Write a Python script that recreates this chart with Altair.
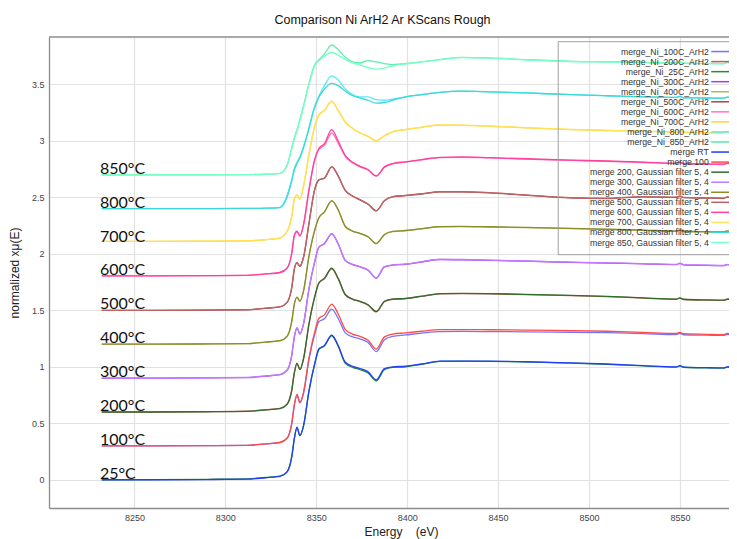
import altair as alt
import pandas as pd

# ---------------- data ----------------
ENERGY = [8232, 8260, 8290, 8312, 8322, 8330, 8334, 8336.5, 8338, 8339.4, 8341, 8343, 8346,
          8349, 8351.5, 8354.5, 8358.5, 8362, 8366, 8370, 8374, 8378.5, 8383, 8387.5, 8392,
          8399, 8408, 8418, 8430, 8445, 8465, 8490, 8510, 8530, 8548, 8550, 8552, 8565, 8574,
          8576, 8578]

NI_25C = [0.000, 0.001, 0.004, 0.008, 0.020, 0.032, 0.072, 0.205, 0.372, 0.462, 0.392, 0.478, 0.785, 1.015, 1.155, 1.185, 1.275, 1.185, 1.030, 0.995, 0.975, 0.945, 0.875, 0.975, 0.995, 1.000, 1.022, 1.048, 1.050, 1.048, 1.043, 1.033, 1.022, 1.008, 0.998, 1.008, 0.996, 0.990, 0.988, 0.998, 0.993]
MERGE_RT = [0.000, 0.000, 0.002, 0.005, 0.018, 0.030, 0.070, 0.200, 0.370, 0.465, 0.390, 0.480, 0.790, 1.020, 1.160, 1.190, 1.280, 1.190, 1.040, 1.005, 0.985, 0.955, 0.885, 0.985, 1.000, 1.005, 1.025, 1.050, 1.050, 1.050, 1.045, 1.035, 1.025, 1.010, 1.000, 1.010, 0.998, 0.992, 0.990, 1.000, 0.995]
NI_100C = [0.300, 0.300, 0.302, 0.305, 0.318, 0.330, 0.368, 0.495, 0.665, 0.748, 0.680, 0.765, 1.065, 1.280, 1.400, 1.425, 1.510, 1.430, 1.300, 1.265, 1.248, 1.215, 1.135, 1.240, 1.270, 1.282, 1.298, 1.312, 1.313, 1.312, 1.310, 1.306, 1.302, 1.294, 1.286, 1.296, 1.284, 1.280, 1.278, 1.288, 1.282]
MERGE_100 = [0.300, 0.300, 0.302, 0.305, 0.318, 0.330, 0.370, 0.500, 0.670, 0.755, 0.685, 0.775, 1.080, 1.300, 1.430, 1.460, 1.555, 1.470, 1.330, 1.290, 1.270, 1.235, 1.157, 1.265, 1.290, 1.300, 1.315, 1.330, 1.330, 1.328, 1.325, 1.320, 1.315, 1.305, 1.295, 1.305, 1.293, 1.288, 1.285, 1.295, 1.290]
NI_200C = [0.600, 0.600, 0.603, 0.607, 0.620, 0.632, 0.672, 0.795, 0.955, 1.032, 0.978, 1.073, 1.382, 1.612, 1.742, 1.780, 1.868, 1.780, 1.636, 1.597, 1.577, 1.546, 1.486, 1.577, 1.598, 1.603, 1.623, 1.646, 1.648, 1.646, 1.640, 1.631, 1.621, 1.608, 1.598, 1.608, 1.596, 1.590, 1.588, 1.598, 1.593]
MERGE_200 = [0.600, 0.600, 0.602, 0.606, 0.618, 0.630, 0.668, 0.790, 0.950, 1.030, 0.975, 1.070, 1.380, 1.610, 1.745, 1.785, 1.873, 1.785, 1.640, 1.600, 1.580, 1.550, 1.490, 1.580, 1.600, 1.605, 1.625, 1.648, 1.650, 1.648, 1.642, 1.633, 1.623, 1.610, 1.600, 1.610, 1.598, 1.592, 1.590, 1.600, 1.595]
NI_300C = [0.900, 0.900, 0.902, 0.905, 0.918, 0.930, 0.970, 1.100, 1.270, 1.345, 1.290, 1.380, 1.690, 1.920, 2.060, 2.090, 2.177, 2.090, 1.940, 1.905, 1.885, 1.855, 1.785, 1.885, 1.900, 1.908, 1.928, 1.950, 1.948, 1.942, 1.935, 1.925, 1.918, 1.912, 1.905, 1.915, 1.903, 1.898, 1.895, 1.905, 1.900]
MERGE_300 = [0.900, 0.900, 0.903, 0.906, 0.919, 0.931, 0.972, 1.103, 1.272, 1.347, 1.292, 1.383, 1.693, 1.922, 2.062, 2.092, 2.180, 2.092, 1.942, 1.907, 1.887, 1.857, 1.788, 1.887, 1.902, 1.910, 1.930, 1.952, 1.950, 1.944, 1.937, 1.927, 1.920, 1.914, 1.907, 1.917, 1.905, 1.900, 1.897, 1.907, 1.902]
NI_400C = [1.200, 1.200, 1.202, 1.205, 1.218, 1.230, 1.270, 1.400, 1.560, 1.615, 1.580, 1.670, 1.980, 2.200, 2.320, 2.370, 2.470, 2.390, 2.240, 2.200, 2.180, 2.150, 2.090, 2.170, 2.197, 2.205, 2.222, 2.240, 2.242, 2.238, 2.232, 2.224, 2.216, 2.208, 2.200, 2.210, 2.198, 2.194, 2.192, 2.202, 2.196]
MERGE_400 = [1.200, 1.200, 1.203, 1.206, 1.219, 1.231, 1.272, 1.402, 1.562, 1.617, 1.582, 1.672, 1.982, 2.202, 2.322, 2.372, 2.472, 2.392, 2.242, 2.202, 2.182, 2.152, 2.092, 2.172, 2.199, 2.207, 2.224, 2.242, 2.244, 2.240, 2.234, 2.226, 2.218, 2.210, 2.202, 2.212, 2.200, 2.196, 2.194, 2.204, 2.198]
NI_500C = [1.500, 1.500, 1.502, 1.505, 1.518, 1.530, 1.570, 1.700, 1.870, 1.920, 1.890, 1.970, 2.270, 2.560, 2.655, 2.670, 2.770, 2.690, 2.560, 2.510, 2.478, 2.440, 2.380, 2.470, 2.505, 2.515, 2.530, 2.548, 2.548, 2.540, 2.520, 2.495, 2.490, 2.505, 2.500, 2.510, 2.498, 2.494, 2.492, 2.502, 2.496]
MERGE_500 = [1.500, 1.500, 1.503, 1.506, 1.519, 1.531, 1.572, 1.702, 1.872, 1.922, 1.892, 1.972, 2.272, 2.562, 2.657, 2.672, 2.773, 2.692, 2.562, 2.512, 2.480, 2.442, 2.383, 2.472, 2.507, 2.517, 2.532, 2.550, 2.550, 2.542, 2.522, 2.497, 2.492, 2.507, 2.502, 2.512, 2.500, 2.496, 2.494, 2.504, 2.498]
NI_600C = [1.805, 1.805, 1.807, 1.810, 1.822, 1.835, 1.874, 2.002, 2.165, 2.196, 2.157, 2.255, 2.562, 2.820, 2.925, 2.960, 3.070, 2.980, 2.862, 2.806, 2.772, 2.742, 2.688, 2.767, 2.797, 2.812, 2.832, 2.852, 2.855, 2.849, 2.839, 2.827, 2.819, 2.809, 2.799, 2.809, 2.797, 2.793, 2.791, 2.801, 2.795]
MERGE_600 = [1.805, 1.805, 1.807, 1.810, 1.822, 1.835, 1.875, 2.005, 2.170, 2.200, 2.160, 2.260, 2.570, 2.830, 2.935, 2.975, 3.100, 3.000, 2.870, 2.810, 2.775, 2.745, 2.690, 2.770, 2.800, 2.815, 2.835, 2.855, 2.858, 2.852, 2.842, 2.830, 2.822, 2.812, 2.802, 2.812, 2.800, 2.796, 2.794, 2.804, 2.798]
NI_700C = [2.110, 2.110, 2.112, 2.115, 2.125, 2.140, 2.200, 2.330, 2.490, 2.520, 2.485, 2.600, 2.880, 3.120, 3.230, 3.270, 3.350, 3.270, 3.165, 3.110, 3.070, 3.040, 3.000, 3.045, 3.080, 3.100, 3.120, 3.140, 3.138, 3.130, 3.115, 3.100, 3.092, 3.085, 3.078, 3.088, 3.075, 3.072, 3.070, 3.080, 3.072]
MERGE_700 = [2.110, 2.110, 2.113, 2.116, 2.126, 2.141, 2.202, 2.333, 2.493, 2.523, 2.488, 2.603, 2.883, 3.122, 3.232, 3.272, 3.352, 3.272, 3.167, 3.112, 3.072, 3.042, 3.002, 3.047, 3.082, 3.102, 3.122, 3.142, 3.140, 3.132, 3.117, 3.102, 3.094, 3.087, 3.080, 3.090, 3.077, 3.074, 3.072, 3.082, 3.074]
NI_800 = [2.400, 2.400, 2.400, 2.402, 2.405, 2.412, 2.520, 2.660, 2.760, 2.810, 2.860, 2.950, 3.120, 3.300, 3.400, 3.490, 3.575, 3.540, 3.460, 3.410, 3.390, 3.390, 3.365, 3.360, 3.370, 3.390, 3.410, 3.430, 3.440, 3.435, 3.425, 3.410, 3.400, 3.390, 3.385, 3.395, 3.382, 3.380, 3.378, 3.388, 3.380]
MERGE_800 = [2.400, 2.400, 2.400, 2.402, 2.405, 2.410, 2.505, 2.645, 2.745, 2.800, 2.850, 2.940, 3.110, 3.290, 3.390, 3.460, 3.510, 3.490, 3.440, 3.400, 3.380, 3.360, 3.335, 3.340, 3.360, 3.390, 3.410, 3.430, 3.440, 3.435, 3.425, 3.410, 3.400, 3.390, 3.385, 3.395, 3.382, 3.380, 3.378, 3.388, 3.380]
NI_850 = [2.700, 2.700, 2.700, 2.702, 2.705, 2.712, 2.790, 2.940, 3.030, 3.100, 3.190, 3.310, 3.510, 3.670, 3.720, 3.770, 3.850, 3.810, 3.740, 3.700, 3.690, 3.710, 3.700, 3.685, 3.675, 3.685, 3.700, 3.720, 3.740, 3.735, 3.720, 3.705, 3.700, 3.695, 3.690, 3.700, 3.688, 3.686, 3.685, 3.695, 3.688]
MERGE_850 = [2.700, 2.700, 2.700, 2.702, 2.705, 2.712, 2.785, 2.930, 3.020, 3.090, 3.180, 3.300, 3.500, 3.660, 3.710, 3.750, 3.785, 3.760, 3.720, 3.690, 3.670, 3.650, 3.635, 3.645, 3.665, 3.680, 3.700, 3.720, 3.738, 3.733, 3.718, 3.703, 3.698, 3.693, 3.688, 3.698, 3.686, 3.684, 3.683, 3.693, 3.686]

LEGEND_ORDER = [
    "merge_Ni_100C_ArH2", "merge_Ni_200C_ArH2", "merge_Ni_25C_ArH2", "merge_Ni_300C_ArH2",
    "merge_Ni_400C_ArH2", "merge_Ni_500C_ArH2", "merge_Ni_600C_ArH2", "merge_Ni_700C_ArH2",
    "merge_Ni_800_ArH2", "merge_Ni_850_ArH2", "merge RT", "merge 100",
    "merge 200, Gaussian filter 5, 4", "merge 300, Gaussian filter 5, 4",
    "merge 400, Gaussian filter 5, 4", "merge 500, Gaussian filter 5, 4",
    "merge 600, Gaussian filter 5, 4", "merge 700, Gaussian filter 5, 4",
    "merge 800, Gaussian filter 5, 4", "merge 850, Gaussian filter 5, 4",
]
LEGEND_COLORS = [
    "#7474ff", "#c25e55", "#2e8b2e", "#a83ee6", "#b4b466", "#a84646", "#ff74c4", "#ffd23c",
    "#5ae8f5", "#5af0a8", "#1f3fff", "#ff4a4a", "#2e6e2e", "#c07aff", "#8c8c2a", "#bc6464",
    "#ff3f9a", "#ffe25a", "#3cd8d8", "#7affc8",
]
SERIES_VALUES = [NI_100C, NI_200C, NI_25C, NI_300C, NI_400C, NI_500C, NI_600C, NI_700C,
                 NI_800, NI_850, MERGE_RT, MERGE_100, MERGE_200, MERGE_300, MERGE_400,
                 MERGE_500, MERGE_600, MERGE_700, MERGE_800, MERGE_850]

TEMP_LABELS = ["25°C", "100°C", "200°C", "300°C", "400°C", "500°C", "600°C", "700°C", "800°C", "850°C"]
TEMP_BASELINES = [0.0, 0.3, 0.6, 0.9, 1.2, 1.5, 1.8, 2.1, 2.4, 2.7]
LABEL_ENERGY = 8231

X_TICKS = [8250, 8300, 8350, 8400, 8450, 8500, 8550]
Y_TICKS = [0, 0.5, 1, 1.5, 2, 2.5, 3, 3.5]

# ---------------- build tables ----------------
rows = []
for name, vals in zip(LEGEND_ORDER, SERIES_VALUES):
    for e, v in zip(ENERGY, vals):
        rows.append({"series": name, "energy": e, "mu": v})
df = pd.DataFrame(rows)
labels_df = pd.DataFrame({"label": TEMP_LABELS, "base": TEMP_BASELINES})

W, H = 680, 471
FONT = "Liberation Sans"

# a small symbol whose drawn path reaches far to the right: a long key line on a short row
legend = alt.Legend(
    title=None, orient="none", legendX=508.7, legendY=4.2, direction="vertical", columns=1,
    symbolType="M-1,0H8", symbolSize=36, symbolStrokeWidth=1.5, symbolOffset=146.15,
    labelAlign="right", labelOffset={"expr": "-9.75"},
    labelFont=FONT, labelFontSize=8.7,
    labelColor="#333333", labelLimit=300, rowPadding=0.05, padding=6,
    strokeColor="#a0a0a0",
)

lines = alt.Chart(df).mark_line(interpolate="monotone", strokeWidth=1.3, clip=True).encode(
    x=alt.X("energy:Q",
            scale=alt.Scale(domain=[8203, 8577], nice=False, zero=False),
            axis=alt.Axis(values=X_TICKS, format="d", title="Energy\u00a0\u00a0\u00a0\u00a0(eV)",
                          titleX=352, titleAlign="center", titlePadding=4, labelPadding=5)),
    y=alt.Y("mu:Q",
            scale=alt.Scale(domain=[-0.25, 3.92], nice=False, zero=False),
            axis=alt.Axis(values=Y_TICKS, format="~g", title="normalized xμ(E)",
                          titlePadding=10, labelPadding=5, titleFontSize=12)),
    color=alt.Color("series:N", scale=alt.Scale(domain=LEGEND_ORDER, range=LEGEND_COLORS),
                    legend=legend),
)

labels = alt.Chart(labels_df).mark_text(
    align="left", baseline="alphabetic", font="Lato", fontSize=16, color="#111111", dy=-1
).encode(
    x=alt.datum(LABEL_ENERGY),
    y=alt.Y("base:Q"),
    text="label:N",
)

border = alt.Chart(pd.DataFrame({"k": [0]})).mark_rule(color="#8c8c8c", strokeWidth=1.3).encode(
    x=alt.value(0), x2=alt.value(W), y=alt.value(0)
)

chart = alt.layer(lines, labels, border).properties(
    width=W, height=H,
    title=alt.TitleParams("Comparison Ni ArH2 Ar KScans Rough", font=FONT, fontSize=12.5,
                          fontWeight="normal", color="#111111", offset=10, dx=-6.5),
    autosize=alt.AutoSizeParams(type="none"),
    padding={"left": 41, "top": 29, "right": 0, "bottom": 31},
).configure_view(stroke=None).configure_axis(
    grid=True, gridColor="#e2e2e2", gridWidth=1.2, ticks=False,
    domainColor="#8c8c8c", domainWidth=1.3,
    labelFont=FONT, labelFontSize=9, labelColor="#444444",
    titleFont=FONT, titleFontSize=12, titleFontWeight="normal", titleColor="#222222",
)

chart.save("out.html", embed_options={"renderer": "svg", "actions": False})
